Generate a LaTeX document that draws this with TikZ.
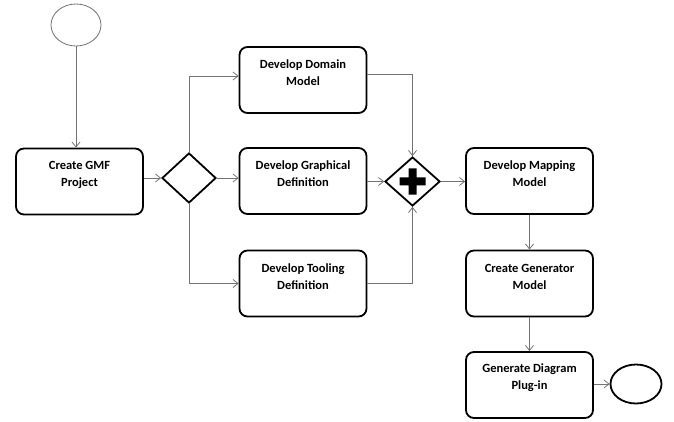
\documentclass[tikz,border=0pt]{standalone}
\usepackage{fontspec}
\setmainfont{Carlito}
\usetikzlibrary{shapes.geometric,arrows.meta}
\begin{document}
\begin{tikzpicture}[x=1pt,y=-1pt,
  box/.style={draw=black,line width=1.8pt,rounded corners=8pt,minimum width=127pt,minimum height=66pt,inner sep=0pt},
  txt/.style={font=\bfseries\fontsize{12.5}{17}\selectfont,align=center,inner sep=0pt,yshift=7pt},
  gate/.style={draw=black,line width=1.8pt,diamond,minimum width=54pt,minimum height=50pt,inner sep=0pt},
  conn/.style={draw=black!55,line width=0.8pt,-{Straight Barb[length=5pt,width=8pt]}},
  line/.style={draw=black!55,line width=0.8pt},
]
\useasboundingbox (0,0) rectangle (674,422);
% events
\node[draw=black!55,line width=0.8pt,ellipse,minimum width=50pt,minimum height=42pt,inner sep=0pt] (start) at (76,25) {};
\node[draw=black,line width=1.8pt,ellipse,minimum width=51pt,minimum height=39pt,inner sep=0pt] (end) at (636,384) {};
% tasks
\node[box,label={[txt]center:{Create GMF\\Project}}] (gmf) at (79.5,181.5) {};
\node[box,label={[txt]center:{Develop Domain\\Model}}] (dom) at (303,80) {};
\node[box,label={[txt]center:{Develop Graphical\\Definition}}] (graph) at (303,181) {};
\node[box,label={[txt]center:{Develop Tooling\\Definition}}] (tool) at (303,283.5) {};
\node[box,label={[txt]center:{Develop Mapping\\Model}}] (map) at (529.5,181) {};
\node[box,label={[txt]center:{Create Generator\\Model}}] (gen) at (529.5,283.5) {};
\node[box,label={[txt]center:{Generate Diagram\\Plug-in}}] (diag) at (529.5,385) {};
% gateways
\node[gate] (g1) at (189,178) {};
\node[gate,minimum width=55pt,minimum height=49pt] (g2) at (412.5,181.5) {};
\fill[black] ([xshift=-4pt,yshift=13pt]g2.center) -- ++(8pt,0) -- ++(0,-9pt) -- ++(9pt,0) -- ++(0,-8pt) -- ++(-9pt,0) -- ++(0,-9pt) -- ++(-8pt,0) -- ++(0,9pt) -- ++(-9pt,0) -- ++(0,8pt) -- ++(9pt,0) -- cycle;
% connectors
\draw[conn] (start.south) -- (start.south |- gmf.north);
\draw[conn] (gmf.east |- g1.west) -- (g1.west);
\draw[conn] (g1.north) |- ([yshift=4pt]dom.west);
\draw[conn] (g1.east) -- (graph.west |- g1.east);
\draw[conn] (g1.south) |- (tool.west);
\draw[conn] ([yshift=6pt]dom.east) -| (g2.north);
\draw[conn] (graph.east |- g2.west) -- (g2.west);
\draw[conn] (tool.east) -| (g2.south);
\draw[conn] (g2.east) -- (map.west |- g2.east);
\draw[conn] (map.south) -- (gen.north);
\draw[conn] (gen.south) -- (diag.north);
\draw[conn] (diag.east |- end.west) -- (end.west);
\end{tikzpicture}
\end{document}
